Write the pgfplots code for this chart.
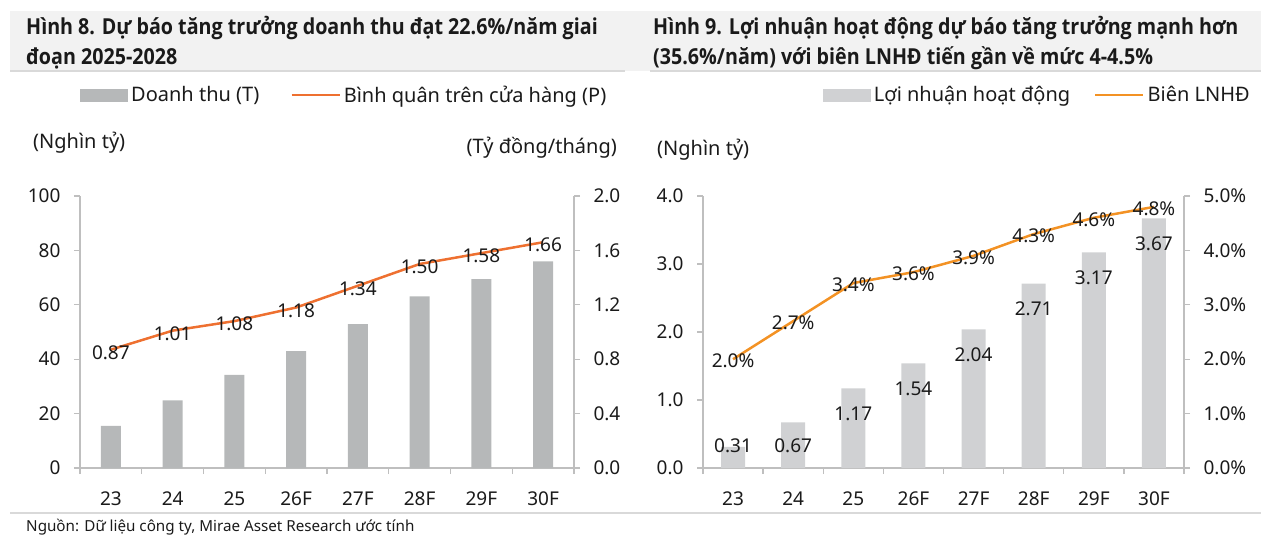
\documentclass[border=0pt]{standalone}
\usepackage{fontspec}
\setmainfont{Noto Sans}
\newfontfamily\titlefont{Open Sans}[FakeStretch=0.895]
\usepackage{pgfplots}
\pgfplotsset{compat=1.18}
\definecolor{bargrayL}{HTML}{B6B8B9}
\definecolor{bargrayR}{HTML}{D0D1D3}
\definecolor{orangeL}{HTML}{EE7030}
\definecolor{orangeR}{HTML}{F39224}
\definecolor{axisgray}{HTML}{BFBFBF}
\definecolor{band}{HTML}{F2F2F2}
\definecolor{bandline}{HTML}{D9D9D9}
\definecolor{txt}{HTML}{1A1A1A}
\newcommand{\lbl}{\fontsize{19}{22}\selectfont}
\newcommand{\lgd}{\fontsize{20}{23}\selectfont}
\newcommand{\ttl}{\titlefont\bfseries\fontsize{22}{26}\selectfont}
\pgfplotsset{
  base/.style={
    scale only axis, clip=false,
    xmin=-0.5, xmax=7.5, ymin=0,
    tick align=outside, major tick length=6pt,
    axis line style={draw=axisgray, line width=1.3pt},
    every tick/.style={draw=axisgray, line width=1.3pt},
    tick label style={font=\lbl, text=txt},
    /pgf/number format/assume math mode=true,
    legend style={draw=none, fill=none, inner sep=0pt, font=\lgd, text=txt,
      nodes={inner sep=3pt}},
    legend columns=2,
  },
  catx/.style={
    axis x line*=bottom, axis y line*=left,
    xtick={-0.5,0.5,...,7.5},
    xticklabels={23,24,25,26F,27F,28F,29F,30F},
    x tick label as interval,
    xticklabel style={yshift=-14pt},
    yticklabel style={xshift=-10pt},
  },
  liny/.style={
    axis x line=none, axis y line*=right,
    yticklabel style={xshift=10pt},
  },
}
\begin{document}
\begin{tikzpicture}
\useasboundingbox (0,0) rectangle (1261pt,-551pt);
% title band
\fill[band] (10pt,-11pt) rectangle (1261pt,-71pt);
\draw[bandline, line width=2pt] (10pt,-71pt) -- (625pt,-71pt);
\draw[bandline, line width=2pt] (650pt,-71pt) -- (1261pt,-71pt);
\node[anchor=base west, inner sep=0pt, text=txt] at (26pt,-35pt) {\ttl Hình 8. Dự báo tăng trưởng doanh thu đạt 22.6\%/năm giai};
\node[anchor=base west, inner sep=0pt, text=txt] at (26pt,-64pt) {\ttl đoạn 2025-2028};
\node[anchor=base west, inner sep=0pt, text=txt] at (653pt,-35pt) {\ttl Hình 9. Lợi nhuận hoạt động dự báo tăng trưởng mạnh hơn};
\node[anchor=base west, inner sep=0pt, text=txt] at (653pt,-64pt) {\ttl (35.6\%/năm) với biên LNHĐ tiến gần về mức 4-4.5\%};
% unit labels
\node[anchor=west, inner sep=0pt, text=txt, font=\lgd] at (33pt,-143pt) {(Nghìn tỷ)};
\node[anchor=east, inner sep=0pt, text=txt, font=\lgd] at (617pt,-148pt) {(Tỷ đồng/tháng)};
\node[anchor=west, inner sep=0pt, text=txt, font=\lgd] at (657pt,-150pt) {(Nghìn tỷ)};
% source
\draw[bandline, line width=2pt] (10pt,-513pt) -- (1261pt,-513pt);
\node[anchor=west, inner sep=0pt, text=txt] at (26pt,-527pt) {\fontsize{15.2}{18}\selectfont Nguồn: Dữ liệu công ty, Mirae Asset Research ước tính};

% ---------- Left chart ----------
\begin{axis}[base, catx,
  at={(80pt,-468pt)}, anchor=south west, width=494pt, height=272pt,
  ymax=100, ytick={0,20,...,100},
  legend style={at={(0,1)}, anchor=west, yshift=101pt,
    /tikz/every even column/.append style={column sep=28pt}},
]
\addplot[ybar, bar width=20pt, fill=bargrayL, draw=none,
  legend image code/.code={\fill[bargrayL] (0pt,-6.5pt) rectangle (48pt,6.5pt);}]
  coordinates {(0,15.5) (1,24.9) (2,34.2) (3,43.0) (4,52.9) (5,63.1) (6,69.4) (7,76.0)};
\addlegendentry{Doanh thu (T)}
\addlegendimage{orangeL, line width=2.5pt, legend image code/.code={\draw[orangeL, line width=2.5pt] (0pt,0pt) -- (48pt,0pt);}}
\addlegendentry{Bình quân trên cửa hàng (P)}
\end{axis}
\begin{axis}[base, liny,
  at={(80pt,-468pt)}, anchor=south west, width=494pt, height=272pt,
  ymax=2, ytick={0,0.4,...,2.01},
  yticklabel style={/pgf/number format/.cd, fixed, fixed zerofill, precision=1},
]
\addplot[orangeL, line width=2.5pt, mark=none,
  nodes near coords, point meta=explicit symbolic,
  nodes near coords style={anchor=center, yshift=-3pt, font=\lbl, text=txt}]
  coordinates {(0,0.87)[0.87] (1,1.01)[1.01] (2,1.08)[1.08] (3,1.18)[1.18] (4,1.34)[1.34] (5,1.50)[1.50] (6,1.58)[1.58] (7,1.66)[1.66]};
\end{axis}

% ---------- Right chart ----------
\begin{axis}[base, catx,
  at={(703pt,-468pt)}, anchor=south west, width=481pt, height=272pt,
  ymax=4, ytick={0,1,...,4},
  yticklabel style={/pgf/number format/.cd, fixed, fixed zerofill, precision=1},
  legend style={at={(1,1)}, anchor=east, xshift=69pt, yshift=101pt,
    /tikz/every even column/.append style={column sep=21pt}},
]
\addplot[ybar, bar width=24pt, fill=bargrayR, draw=none,
  legend image code/.code={\fill[bargrayR] (0pt,-6.5pt) rectangle (48pt,6.5pt);}]
  coordinates {(0,0.31) (1,0.67) (2,1.17) (3,1.54) (4,2.04) (5,2.71) (6,3.17) (7,3.67)};
\addlegendentry{Lợi nhuận hoạt động}
\addlegendimage{orangeR, line width=2.5pt, legend image code/.code={\draw[orangeR, line width=2.5pt] (0pt,0pt) -- (48pt,0pt);}}
\addlegendentry{Biên LNHĐ}
% bar value labels (inside end)
\addplot[draw=none, mark=none, forget plot,
  nodes near coords, point meta=explicit symbolic,
  nodes near coords style={anchor=center, font=\lbl, text=txt}]
  coordinates {(0,0.33)[0.31] (1,0.33)[0.67] (2,0.80)[1.17] (3,1.17)[1.54] (4,1.67)[2.04] (5,2.34)[2.71] (6,2.80)[3.17] (7,3.30)[3.67]};
\end{axis}
\begin{axis}[base, liny,
  at={(703pt,-468pt)}, anchor=south west, width=481pt, height=272pt,
  ymax=5, ytick={0,1,...,5},
  yticklabel={\pgfmathprintnumber[fixed, fixed zerofill, precision=1]{\tick}\%},
]
\addplot[orangeR, line width=2.5pt, mark=none,
  nodes near coords, point meta=explicit symbolic,
  nodes near coords style={anchor=center, yshift=-2pt, font=\lbl, text=txt}]
  coordinates {(0,2.0)[2.0\%] (1,2.7)[2.7\%] (2,3.4)[3.4\%] (3,3.6)[3.6\%] (4,3.9)[3.9\%] (5,4.3)[4.3\%] (6,4.6)[4.6\%] (7,4.8)[4.8\%]};
\end{axis}
\end{tikzpicture}
\end{document}
